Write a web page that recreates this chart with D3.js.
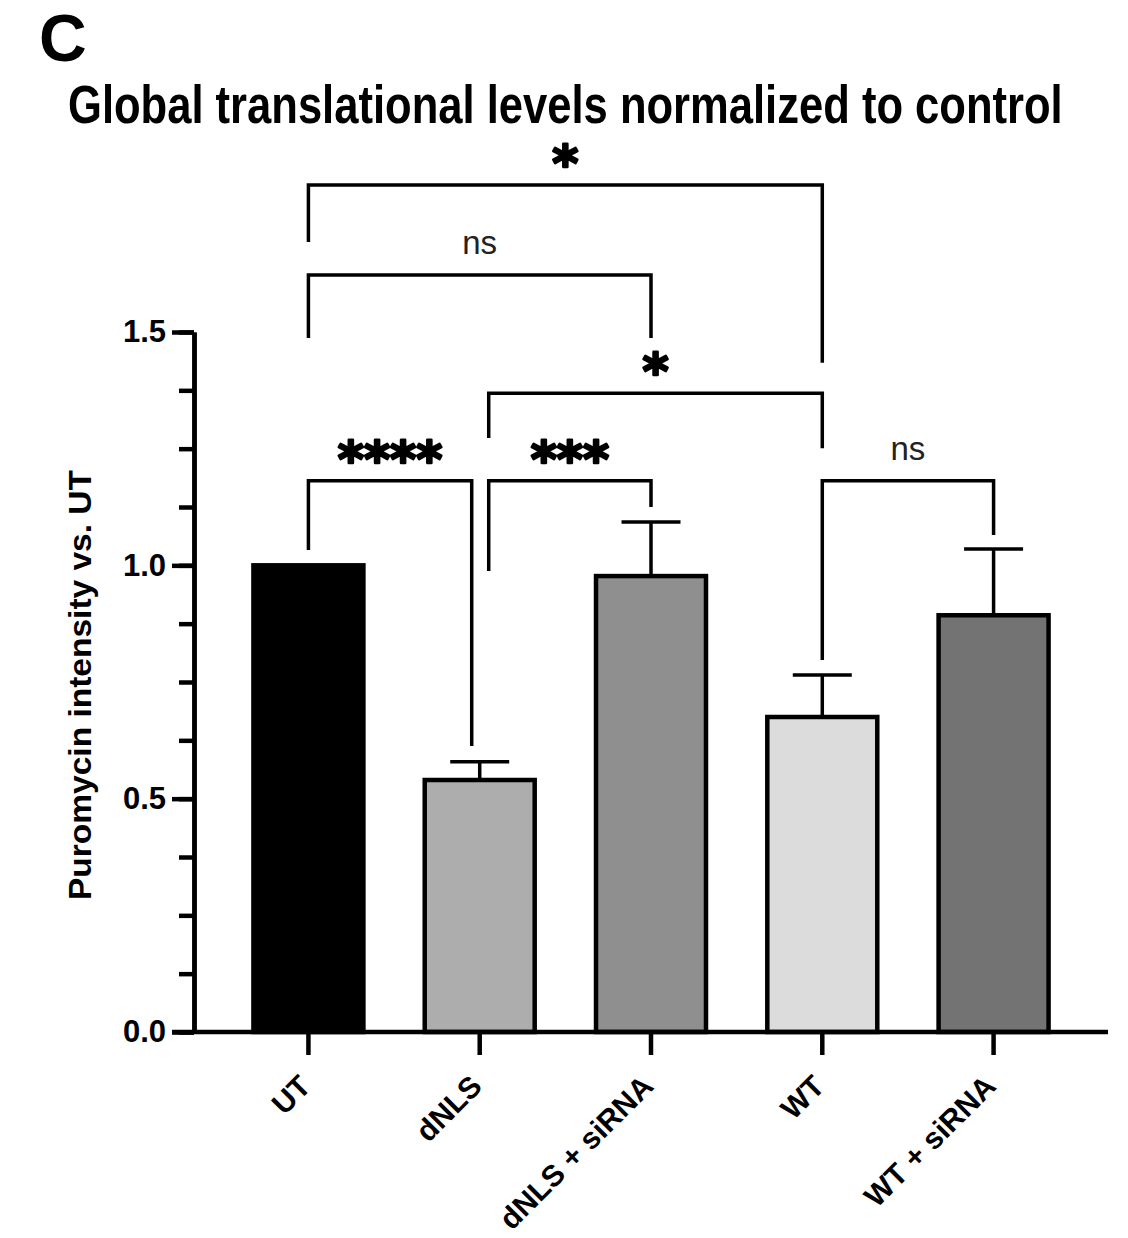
<!DOCTYPE html>
<html>
<head>
<meta charset="utf-8">
<script src="https://cdn.jsdelivr.net/npm/d3@7"></script>
<style>
  body { margin: 0; background: #fff; }
  svg { display: block; font-family: "Liberation Sans", Arial, sans-serif; }
</style>
</head>
<body>
<svg id="chart"></svg>
<script>
// data
const groups = ["UT", "dNLS", "dNLS + siRNA", "WT", "WT + siRNA"]
const means  = [1.0, 0.54, 0.977, 0.675, 0.893]
const sems   = [0, 0.039, 0.116, 0.09, 0.142]
const fills  = ["#000000", "#adadad", "#8f8f8f", "#dcdcdc", "#737373"]

const yMajor = [0, 0.5, 1.0, 1.5]
const yMinor = d3.range(0, 1.5001, 0.125)

// significance brackets: from, to, label, bar height and leg ends (in y units)
const cmpFrom  = ["UT", "UT", "dNLS", "UT", "dNLS", "WT"]
const cmpTo    = ["WT", "dNLS + siRNA", "WT", "dNLS", "dNLS + siRNA", "WT + siRNA"]
const cmpLabel = ["*", "ns", "*", "****", "***", "ns"]
const cmpLevel = [1.815, 1.622, 1.369, 1.181, 1.181, 1.181]
const cmpLegA  = [1.693, 1.487, 1.273, 1.033, 0.988, 0.797]
const cmpLegB  = [1.434, 1.487, 1.251, 0.613, 1.125, 1.065]

const width = 1128, height = 1238
const svg = d3.select("#chart").attr("width", width).attr("height", height)

const x = d3.scaleBand().domain(groups).range([194, 1108])
            .paddingInner(0.358).paddingOuter(0.347)
const y = d3.scaleLinear().domain([0, 1.5]).range([1032, 332])
const cx = d => x(d) + x.bandwidth() / 2

// panel letter + title
svg.append("text").attr("x", 39).attr("y", 61)
   .attr("font-size", 66).attr("font-weight", "bold").text("C")

// title is a condensed face in the figure: squeeze a bold sans to the same width
const title = svg.append("text")
   .attr("font-size", 53).attr("font-weight", "bold")
   .text("Global translational levels normalized to control")
const natural = title.node().getComputedTextLength()
title.attr("transform", `translate(68,123) scale(${995 / natural},1)`)

// bars
svg.append("g").selectAll("rect").data(groups).join("rect")
   .attr("x", d => x(d))
   .attr("y", (d, i) => y(means[i]))
   .attr("width", x.bandwidth())
   .attr("height", (d, i) => y(0) - y(means[i]))
   .attr("fill", (d, i) => fills[i])
   .attr("stroke", "#000").attr("stroke-width", 4.5)

// error bars (upper only)
const err = svg.append("g").attr("stroke", "#000").attr("stroke-width", 3.5)
groups.forEach((g, i) => {
  if (!sems[i]) return
  err.append("line").attr("x1", cx(g)).attr("x2", cx(g))
     .attr("y1", y(means[i])).attr("y2", y(means[i] + sems[i]))
  err.append("line").attr("x1", cx(g) - 29.5).attr("x2", cx(g) + 29.5)
     .attr("y1", y(means[i] + sems[i])).attr("y2", y(means[i] + sems[i]))
})

// y axis: minor then major ticks
const yMinorAxis = d3.axisLeft(y).tickValues(yMinor).tickSize(15).tickSizeOuter(0).tickFormat("")
const yMajorAxis = d3.axisLeft(y).tickValues(yMajor).tickSize(22).tickSizeOuter(0)
                     .tickFormat(d3.format(".1f")).tickPadding(6)

const gyMin = svg.append("g").attr("transform", "translate(194,0)").call(yMinorAxis)
const gy = svg.append("g").attr("transform", "translate(194,0)").call(yMajorAxis)
;[gyMin, gy].forEach(g => {
  g.selectAll("line").attr("stroke-width", 4.5)
  g.select(".domain").attr("stroke-width", 4.5)
})
gy.selectAll("text").attr("font-size", 31).attr("font-weight", "bold")
  .attr("font-family", "'Liberation Sans', Arial, sans-serif").attr("fill", "#000")

// x axis
svg.append("line").attr("x1", 172).attr("x2", 1108)
   .attr("y1", y(0)).attr("y2", y(0))
   .attr("stroke", "#000").attr("stroke-width", 4.5)

const xAxis = d3.axisBottom(x).tickSize(23).tickSizeOuter(0).tickFormat("")
const gx = svg.append("g").attr("transform", `translate(0,${y(0)})`).call(xAxis)
gx.select(".domain").remove()
gx.selectAll("line").attr("stroke-width", 4.5)

svg.append("g").selectAll("text").data(groups).join("text")
   .attr("transform", d => `translate(${cx(d) + 4},${y(0) + 56}) rotate(-45)`)
   .attr("text-anchor", "end")
   .attr("font-size", 30).attr("font-weight", "bold")
   .text(d => d)

// y axis title
svg.append("text")
   .attr("transform", `translate(91,${y(0.75) + 3}) rotate(-90)`)
   .attr("text-anchor", "middle")
   .attr("font-size", 32).attr("font-weight", "bold")
   .attr("textLength", 430).attr("lengthAdjust", "spacingAndGlyphs")
   .text("Puromycin intensity vs. UT")

// brackets
const ends = {}
cmpFrom.forEach((a, i) => { (ends[a + "|" + cmpLevel[i]] ||= {}).left = true })
cmpTo.forEach((b, i) => { (ends[b + "|" + cmpLevel[i]] ||= {}).right = true })
const split = new Set(Object.keys(ends).filter(k => ends[k].left && ends[k].right).map(k => k.split("|")[0]))

const br = svg.append("g")
cmpFrom.forEach((a, i) => {
  const b = cmpTo[i]
  const xa = cx(a) + (split.has(a) ? 9 : 0)
  const xb = cx(b) - (split.has(b) ? 8 : 0)
  const ly = y(cmpLevel[i])
  br.append("path")
    .attr("d", d3.line()([[xa, y(cmpLegA[i])], [xa, ly], [xb, ly], [xb, y(cmpLegB[i])]]))
    .attr("fill", "none").attr("stroke", "#000").attr("stroke-width", 3.5)
  const isNs = cmpLabel[i] === "ns"
  const t = br.append("text")
    .attr("x", (xa + xb) / 2)
    .attr("y", isNs ? ly - 21 : ly - 4)
    .attr("text-anchor", "middle")
    .attr("font-family", isNs ? "'Liberation Sans', Arial, sans-serif" : "'DejaVu Sans', sans-serif")
    .attr("font-weight", isNs ? "normal" : "bold")
    .attr("font-size", isNs ? 33 : 50)
    .attr("fill", isNs ? "#222" : "#000")
    .text(cmpLabel[i])
  if (!isNs) t.attr("stroke", "#000").attr("stroke-width", 2.5).attr("stroke-linejoin", "round")
})
</script>
</body>
</html>
